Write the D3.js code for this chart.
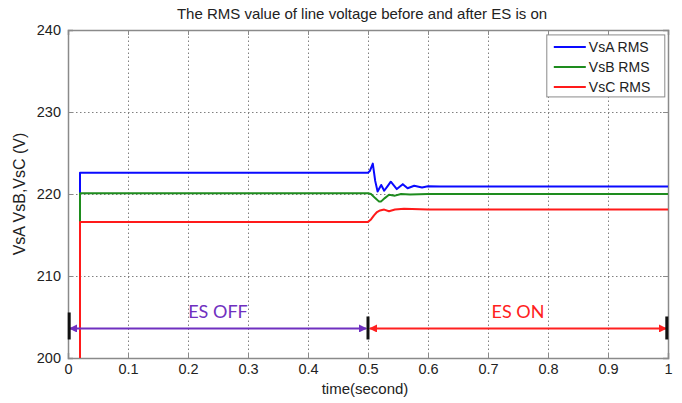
<!DOCTYPE html>
<html>
<head>
<meta charset="utf-8">
<script src="https://cdn.jsdelivr.net/npm/d3@7"></script>
<style>
  body { margin: 0; background: #fff; }
  svg { font-family: "Liberation Sans", Arial, sans-serif; }
  .grid line { stroke: #808080; stroke-dasharray: 1.5, 2.5; }
  .axis path, .axis line { stroke: #8a8a8a; }
  .axis text { fill: #222; font-size: 14.5px; }
</style>
</head>
<body>
<div class="rms-chart"></div>
<script>
const WIDTH = 682,
    HEIGHT = 403,
    MARGIN = { top: 30, right: 14, bottom: 45, left: 68 };

// series data
const timeA = [0, 0.02, 0.02, 0.5, 0.503, 0.508, 0.512, 0.516, 0.522, 0.527, 0.533, 0.538, 0.548, 0.558, 0.566, 0.577, 0.59, 0.6, 0.62, 1.0];
const vsA = [0, 0, 222.6, 222.6, 222.8, 223.7, 221.6, 220.3, 221.1, 220.4, 221.0, 221.5, 220.6, 221.2, 220.7, 221.0, 220.8, 220.95, 220.9, 220.9];
const timeB = [0, 0.02, 0.02, 0.5, 0.505, 0.512, 0.518, 0.522, 0.528, 0.535, 0.545, 0.555, 0.57, 0.6, 1.0];
const vsB = [0, 0, 220.1, 220.1, 220.0, 219.5, 219.1, 219.1, 219.5, 219.9, 219.8, 220.0, 219.95, 220.0, 220.0];
const timeC = [0, 0.02, 0.02, 0.5, 0.505, 0.51, 0.515, 0.52, 0.527, 0.535, 0.545, 0.56, 0.6, 1.0];
const vsC = [0, 0, 216.6, 216.6, 216.9, 217.4, 217.8, 218.0, 218.1, 217.9, 218.1, 218.2, 218.1, 218.1];

const seriesNames = ["VsA RMS", "VsB RMS", "VsC RMS"];
const seriesColors = ["#0a0aff", "#1e8c1e", "#ff1a1a"];

const xTicks = [0, 0.1, 0.2, 0.3, 0.4, 0.5, 0.6, 0.7, 0.8, 0.9, 1];
const yTicks = [200, 210, 220, 230, 240];

// ES off / on annotation
const phaseLabels = ["ES OFF", "ES ON"];
const phaseStart = [0.003, 0.503];
const phaseEnd = [0.497, 0.997];
const phaseColors = ["#7030c0", "#ff2020"];
const phaseLevel = 203.6;
const markTimes = [0.002, 0.5, 0.998];

const svg = d3.select(".rms-chart")
    .append("svg")
    .attr("width", WIDTH)
    .attr("height", HEIGHT);

const x = d3.scaleLinear().domain([0, 1]).range([MARGIN.left, WIDTH - MARGIN.right]);
const y = d3.scaleLinear().domain([200, 240]).range([HEIGHT - MARGIN.bottom, MARGIN.top]);

// grid
svg.append("g")
    .attr("class", "grid")
    .attr("transform", `translate(0, ${y(200)})`)
    .call(d3.axisBottom(x).tickValues(xTicks.slice(1, -1)).tickSize(-(y(200) - y(240))).tickFormat(""))
    .call(g => g.select(".domain").remove());
svg.append("g")
    .attr("class", "grid")
    .attr("transform", `translate(${x(0)}, 0)`)
    .call(d3.axisLeft(y).tickValues(yTicks.slice(1, -1)).tickSize(-(x(1) - x(0))).tickFormat(""))
    .call(g => g.select(".domain").remove());

// axes with inward ticks on all four sides
svg.append("g")
    .attr("class", "axis")
    .attr("transform", `translate(0, ${y(200)})`)
    .call(d3.axisBottom(x).tickValues(xTicks).tickSize(-5).tickPadding(6).tickFormat(d3.format("~g")));
svg.append("g")
    .attr("class", "axis")
    .attr("transform", `translate(0, ${y(240)})`)
    .call(d3.axisTop(x).tickValues(xTicks).tickSize(-5).tickFormat(""));
svg.append("g")
    .attr("class", "axis")
    .attr("transform", `translate(${x(0)}, 0)`)
    .call(d3.axisLeft(y).tickValues(yTicks).tickSize(-5).tickPadding(7));
svg.append("g")
    .attr("class", "axis")
    .attr("transform", `translate(${x(1)}, 0)`)
    .call(d3.axisRight(y).tickValues(yTicks).tickSize(-5).tickFormat(""));
svg.selectAll(".axis .domain").attr("stroke-width", 1.5);

// clip region
svg.append("clipPath").attr("id", "plot-clip")
    .append("rect")
    .attr("x", x(0)).attr("y", y(240))
    .attr("width", x(1) - x(0)).attr("height", y(200) - y(240));

const line = d3.line().x(d => x(d[0])).y(d => y(d[1]));
const seriesData = [
    d3.zip(timeA, vsA),
    d3.zip(timeB, vsB),
    d3.zip(timeC, vsC)
];

svg.append("g")
    .attr("clip-path", "url(#plot-clip)")
    .selectAll("path")
    .data(seriesData)
    .join("path")
    .attr("d", line)
    .attr("fill", "none")
    .attr("stroke", (d, i) => seriesColors[i])
    .attr("stroke-width", 2)
    .attr("stroke-linejoin", "round");

// arrow heads
const defs = svg.append("defs");
phaseColors.forEach((c, i) => {
    defs.append("marker")
        .attr("id", `arrow-${i}`)
        .attr("viewBox", "0 0 10 10")
        .attr("refX", 9).attr("refY", 5)
        .attr("markerWidth", 4).attr("markerHeight", 4)
        .attr("orient", "auto-start-reverse")
        .append("path")
        .attr("d", "M0,0 L10,5 L0,10 Z")
        .attr("fill", c);
});

phaseLabels.forEach((label, i) => {
    svg.append("line")
        .attr("x1", x(phaseStart[i])).attr("y1", y(phaseLevel))
        .attr("x2", x(phaseEnd[i])).attr("y2", y(phaseLevel))
        .attr("stroke", phaseColors[i])
        .attr("stroke-width", 2)
        .attr("marker-start", `url(#arrow-${i})`)
        .attr("marker-end", `url(#arrow-${i})`);

    svg.append("text")
        .attr("x", x((phaseStart[i] + phaseEnd[i]) / 2))
        .attr("y", y(phaseLevel) - 10)
        .attr("text-anchor", "middle")
        .style("font-family", "Lato, 'Open Sans', sans-serif")
        .style("font-size", "18px")
        .style("fill", phaseColors[i])
        .text(label);
});

markTimes.forEach((t, i) => {
    svg.append("line")
        .attr("x1", x(t)).attr("x2", x(t))
        .attr("y1", y(phaseLevel) - (i === 0 ? 16 : 12))
        .attr("y2", y(phaseLevel) + 11)
        .attr("stroke", "#111")
        .attr("stroke-width", 3);
});

// legend
const legend = svg.append("g").attr("transform", `translate(${x(0.798)}, ${y(239.4)})`);
legend.append("rect")
    .attr("width", 118).attr("height", 62)
    .attr("fill", "#fff")
    .attr("stroke", "#8a8a8a");
seriesNames.forEach((name, i) => {
    legend.append("line")
        .attr("x1", 7).attr("x2", 39)
        .attr("y1", 12 + i * 20).attr("y2", 12 + i * 20)
        .attr("stroke", seriesColors[i])
        .attr("stroke-width", 2);
    legend.append("text")
        .attr("x", 42).attr("y", 17 + i * 20)
        .style("font-size", "14px")
        .style("fill", "#222")
        .text(name);
});

// titles
svg.append("text")
    .attr("x", 362).attr("y", 19)
    .attr("text-anchor", "middle")
    .style("font-size", "15px")
    .style("fill", "#222")
    .text("The RMS value of line voltage before and after ES is on");

svg.append("text")
    .attr("x", 365).attr("y", 394)
    .attr("text-anchor", "middle")
    .style("font-size", "15px")
    .style("fill", "#222")
    .text("time(second)");

svg.append("text")
    .attr("transform", `translate(25, ${(y(200) + y(240)) / 2}) rotate(-90)`)
    .attr("text-anchor", "middle")
    .style("font-size", "16px")
    .style("fill", "#222")
    .text("VsA VsB,VsC (V)");
</script>
</body>
</html>
